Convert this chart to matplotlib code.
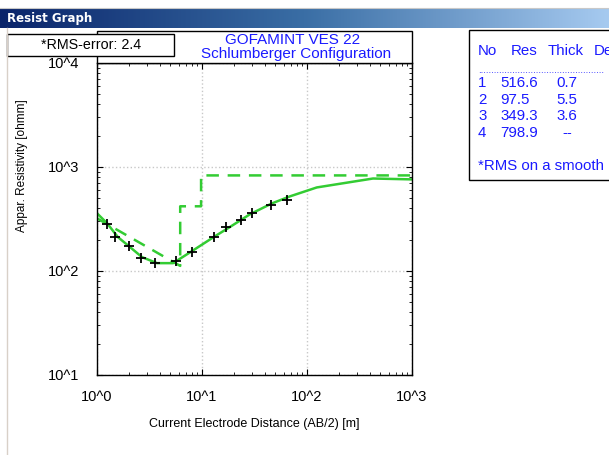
import matplotlib
matplotlib.use("Agg")
import matplotlib.pyplot as plt
import matplotlib.patches as patches
from matplotlib.colors import LinearSegmentedColormap
import numpy as np

plt.rcParams['font.family'] = ['Liberation Sans', 'DejaVu Sans']

# measured field data (AB/2 [m], apparent resistivity [ohmm])
ab2 = [1.25, 1.5, 2.0, 2.6, 3.6, 5.6, 8.0, 13.0, 17.0, 23.5, 30.0, 45.0, 65.0]
rho_meas = [284, 213, 173, 132, 119, 125, 153, 211, 264, 306, 361, 428, 481]

# calculated curve of the model
ab2_calc = [1.0, 1.25, 1.58, 2.06, 2.68, 3.73, 5.3, 8.0, 13.3, 17.7, 28.6, 46.4, 68.8, 124, 425, 1000]
rho_calc = [359, 287, 212, 170, 136, 119, 119, 155, 216, 258, 351, 447, 522, 636, 775, 760]

# layered model drawn as dashed line
depth_mod = [1.0, 6.2, 6.2, 9.8, 9.8, 1000]
rho_mod = [321, 112, 419, 419, 830, 830]

# layer table
layer_no = ['1', '2', '3', '4']
layer_res = ['516.6', '97.5', '349.3', '798.9']
layer_thick = ['0.7', '5.5', '3.6', '--']

xticks = [1, 10, 100, 1000]
xtick_labels = ['10^0', '10^1', '10^2', '10^3']
yticks = [10, 100, 1000, 10000]
ytick_labels = ['10^1', '10^2', '10^3', '10^4']

W, H = 609, 455
fig = plt.figure(figsize=(W / 100, H / 100), dpi=100)
fig.patch.set_facecolor('white')

def fx(px):
    return px / W

def fy(py):
    return 1 - py / H

# window title bar with gradient
bar = fig.add_axes([0, fy(28), 1, 19 / H])
grad = np.linspace(0, 1, 256).reshape(1, -1)
cm = LinearSegmentedColormap.from_list('bar', ['#0a246a', '#3a6ea5', '#a6caf0'])
bar.imshow(grad, aspect='auto', cmap=cm, extent=[0, 1, 0, 1])
bar.set_axis_off()
bar.text(0.012, 0.5, 'Resist Graph', color='white', fontweight='bold', fontsize=8.5,
         va='center', ha='left', family=['DejaVu Sans'])

# thin grey lines of the window
fig.add_artist(plt.Line2D([0, 1], [fy(7.5), fy(7.5)], color='#c8c8c8', lw=0.8))
fig.add_artist(plt.Line2D([fx(7), fx(7)], [0, fy(28)], color='#d8d0c8', lw=1.0))

ax = fig.add_axes([fx(97), fy(375), (412 - 97) / W, (375 - 63) / H])
ax.set_xscale('log')
ax.set_yscale('log')
ax.set_xlim(1, 1000)
ax.set_ylim(10, 10000)

ax.plot(depth_mod, rho_mod, color='#33cc33', lw=1.8, ls=(0, (5, 3.5)))
ax.plot(ab2_calc, rho_calc, color='#33cc33', lw=1.8)
ax.plot(ab2, rho_meas, '+', color='black', ms=7, mew=1.3)

ax.grid(True, which='major', color='#c8c8c8', ls=':', lw=1.0)
ax.set_xticks(xticks)
ax.set_xticklabels(xtick_labels)
ax.set_yticks(yticks)
ax.set_yticklabels(ytick_labels)
ax.tick_params(which='both', direction='in', top=True, right=True)
ax.tick_params(which='major', length=4, labelsize=10.5)
ax.tick_params(which='minor', length=2)
ax.tick_params(axis='x', pad=11)
ax.tick_params(axis='y', pad=13)
for sp in ax.spines.values():
    sp.set_linewidth(1.0)
ax.set_xlabel('Current Electrode Distance (AB/2) [m]', fontsize=9, labelpad=10)
fig.text(fx(22), fy(166), 'Appar. Resistivity [ohmm]', fontsize=8.5, rotation=90,
         ha='center', va='center')

# title box above the plot
fig.add_artist(patches.Rectangle((fx(97), fy(63)), (412 - 97) / W, 32 / H,
                                 transform=fig.transFigure, fill=True, facecolor='white',
                                 edgecolor='black', lw=1.0))
fig.text(fx(293), fy(40), 'GOFAMINT VES 22', color='#1a1aff', fontsize=11, ha='center', va='center')
fig.text(fx(296), fy(54), 'Schlumberger Configuration', color='#1a1aff', fontsize=11,
         ha='center', va='center')

# RMS box
fig.add_artist(patches.Rectangle((fx(7), fy(56)), 167 / W, 22 / H,
                                 transform=fig.transFigure, facecolor='white',
                                 edgecolor='black', lw=1.0))
fig.text(fx(91), fy(45), '*RMS-error: 2.4', fontsize=10.3, ha='center', va='center')

# layer table box on the right (cut by the window edge)
fig.add_artist(patches.Rectangle((fx(469), fy(180)), 200 / W, 150 / H,
                                 transform=fig.transFigure, facecolor='white',
                                 edgecolor='black', lw=1.0, clip_on=False))
blue = '#1a1aff'
tsize = 10.8
fig.text(fx(478), fy(51), 'No', color=blue, fontsize=tsize, va='center')
fig.text(fx(511), fy(51), 'Res', color=blue, fontsize=tsize, va='center')
fig.text(fx(548), fy(51), 'Thick', color=blue, fontsize=tsize, va='center')
fig.text(fx(594), fy(51), 'De', color=blue, fontsize=tsize, va='center')
fig.text(fx(478), fy(70), '.' * 48, color=blue, fontsize=7, va='center')
for i in range(len(layer_no)):
    yy = fy(83 + i * 16.7)
    fig.text(fx(478), yy, layer_no[i], color=blue, fontsize=tsize, va='center')
    fig.text(fx(500), yy, layer_res[i], color=blue, fontsize=tsize, va='center')
    fig.text(fx(567), yy, layer_thick[i], color=blue, fontsize=tsize, va='center', ha='center')
fig.text(fx(478), fy(166), '*RMS on a smooth', color=blue, fontsize=tsize, va='center')

fig.savefig('out.png', dpi=100)
